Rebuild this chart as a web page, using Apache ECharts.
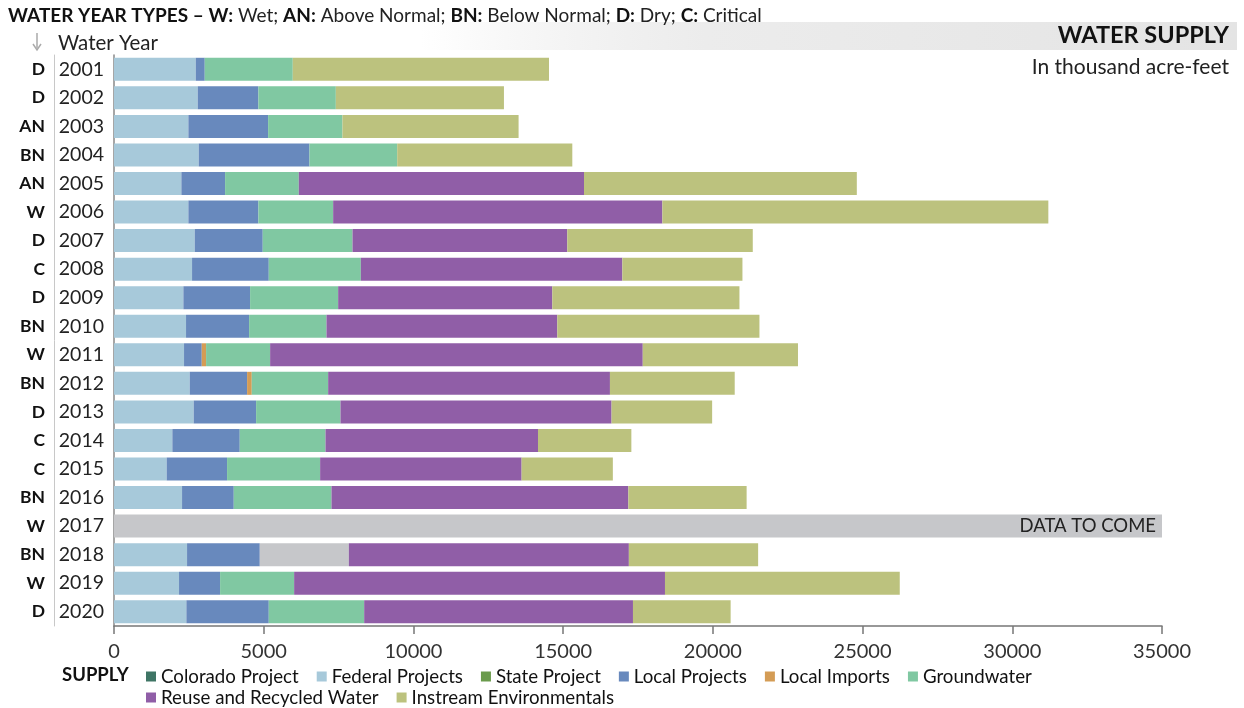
<!DOCTYPE html>
<html>
<head>
<meta charset="utf-8">
<script src="https://cdn.jsdelivr.net/npm/echarts@6/dist/echarts.min.js"></script>
<style>
html,body{margin:0;padding:0;background:#fff;}
#chart{width:1244px;height:708px;}
</style>
</head>
<body>
<div id="chart"></div>
<script>
// ---- data (thousand acre-feet) ----
const years = ['2001','2002','2003','2004','2005','2006','2007','2008','2009','2010','2011','2012','2013','2014','2015','2016','2017','2018','2019','2020'];
const yearTypes = ['D','D','AN','BN','AN','W','D','C','D','BN','W','BN','D','C','C','BN','W','BN','W','D'];
const xTicks = [0,5000,10000,15000,20000,25000,30000,35000];

const coloradoProject = [0,0,0,0,0,0,0,0,0,0,0,0,0,0,0,0,null,0,0,0];
const federalProjects = [2730,2797,2484,2830,2250,2484,2696,2607,2317,2406,2339,2529,2663,1949,1760,2273,null,2440,2172,2417];
const stateProject    = [0,0,0,0,0,0,0,0,0,0,0,0,0,0,0,0,null,0,0,0];
const localProjects   = [301,2026,2663,3698,1460,2339,2272,2562,2228,2106,592,1916,2083,2251,2016,1727,null,2429,1371,2752];
const localImports    = [0,0,0,0,0,0,0,0,0,0,144,156,0,0,0,0,null,0,0,0];
const groundwater     = [2940,2586,2483,2930,2462,2496,2997,3075,2941,2584,2139,2551,2818,2863,3108,3263,null,0,2473,3186];
const dataToCome      = [0,0,0,0,0,0,0,0,0,0,0,0,0,0,0,0,35000,2974,0,0];
const reuseRecycled   = [0,0,0,0,9525,10995,7174,8733,7152,7709,12445,9411,9053,7097,6729,9915,null,9352,12385,8977];
const instreamEnv     = [8557,5614,5882,5848,9111,12890,6194,4011,6250,6751,5184,4167,3359,3118,3047,3950,null,4317,7841,3262];

const seriesNames = ['Colorado Project','Federal Projects','State Project','Local Projects','Local Imports','Groundwater','Reuse and Recycled Water','Instream Environmentals'];
const seriesColors = ['#3f7565','#a7c9da','#6a9b4c','#6889bd','#d49c55','#80c8a2','#905ea7','#bcc27e'];
const pendingColor = '#c6c7ca';

const FONT = 'Lato, "Open Sans", sans-serif';
const chart = echarts.init(document.getElementById('chart'), null, {renderer:'canvas'});

function barSeries(name, data, color){
  return {name, type:'bar', stack:'total', data, barWidth:23,
    itemStyle:{color}, emphasis:{disabled:true}, animation:false};
}
const valueArrays = [coloradoProject,federalProjects,stateProject,localProjects,localImports,groundwater,reuseRecycled,instreamEnv];
const series = [];
for (let i=0;i<6;i++) series.push(barSeries(seriesNames[i], valueArrays[i], seriesColors[i]));
series.push({
  name:'Data to come', type:'bar', stack:'total', barWidth:23, animation:false,
  itemStyle:{color:pendingColor}, emphasis:{disabled:true},
  data: dataToCome.map((v,i)=> years[i]==='2017' ? {value:v, label:{show:true}} : v),
  label:{show:false, position:'insideRight', formatter:'DATA TO COME', color:'#222', fontSize:18.5, fontFamily:FONT, distance:6}
});
for (let i=6;i<8;i++) series.push(barSeries(seriesNames[i], valueArrays[i], seriesColors[i]));

const legendText = {fontSize:18.7, color:'#111', fontFamily:FONT};
const option = {
  backgroundColor:'#fff',
  animation:false,
  grid:{left:114, right:82, top:55, bottom:82},
  xAxis:{
    type:'value', min:0, max:35000, interval:5000,
    axisLine:{show:true, onZero:false, lineStyle:{color:'#777', width:1.5}},
    axisTick:{show:true, length:8, lineStyle:{color:'#777', width:1.5}},
    splitLine:{show:false},
    axisLabel:{fontSize:20, color:'#333', fontFamily:FONT, margin:16,
      formatter:(v)=> xTicks.includes(v) ? String(v) : ''}
  },
  yAxis:[{
    type:'category', data:years, inverse:true,
    axisLine:{show:true, lineStyle:{color:'#888', width:1.5}},
    axisTick:{show:false},
    axisLabel:{fontSize:19.5, color:'#222', fontFamily:FONT, margin:10}
  },{
    type:'category', data:years, inverse:true,
    position:'left', offset:60,
    axisLine:{show:true, lineStyle:{color:'#c8c8c8', width:1}},
    axisTick:{show:false},
    axisLabel:{fontSize:17.5, color:'#111', fontWeight:'bold', fontFamily:FONT, margin:9,
      formatter:(v,i)=> yearTypes[i]}
  }],
  legend:[{
    data:seriesNames.slice(0,6), left:141, top:662, itemWidth:10, itemHeight:10, icon:'rect',
    itemGap:18, textStyle:legendText, selectedMode:false
  },{
    data:seriesNames.slice(6), left:141, top:683, itemWidth:10, itemHeight:10, icon:'rect',
    itemGap:18, textStyle:legendText, selectedMode:false
  }],
  graphic:[
    {type:'rect', left:420, top:22, shape:{width:817, height:28}, z:-1,
      style:{fill:new echarts.graphic.LinearGradient(0,0,1,0,[{offset:0,color:'rgba(230,230,230,0)'},{offset:0.35,color:'#ececec'},{offset:1,color:'#e4e4e4'}])}},
    {type:'text', right:15, top:23, style:{text:'WATER SUPPLY', font:'bold 23.5px '+FONT, fill:'#111'}},
    {type:'text', right:15, top:57, style:{text:'In thousand acre-feet', font:'21px '+FONT, fill:'#222'}},
    {type:'text', left:8, top:6, style:{
      text:'{b|WATER YEAR TYPES – W:} Wet; {b|AN:} Above Normal; {b|BN:} Below Normal; {b|D:} Dry; {b|C:} Critical',
      font:'19px '+FONT, fill:'#222',
      rich:{b:{fontWeight:'bold', fontSize:19, fontFamily:FONT, fill:'#111', color:'#111'}}
    }},
    {type:'text', left:58, top:33, style:{text:'Water Year', font:'20.5px '+FONT, fill:'#222'}},
    {type:'line', shape:{x1:37, y1:33, x2:37, y2:48}, style:{stroke:'#aaa', lineWidth:1.5}},
    {type:'polyline', shape:{points:[[33,44],[37,50],[41,44]]}, style:{stroke:'#aaa', lineWidth:1.5, fill:null}},
    {type:'text', left:62, top:666, style:{text:'SUPPLY', font:'bold 18.5px '+FONT, fill:'#111'}}
  ],
  series
};
chart.setOption(option);
</script>
</body>
</html>
